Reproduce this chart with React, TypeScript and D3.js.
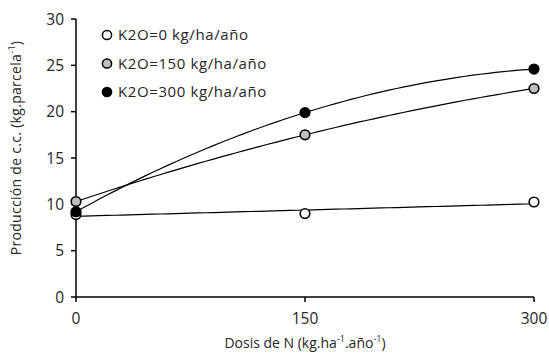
import * as d3 from "d3"

const doses = [0, 150, 300]
const k0 = [8.9, 9.0, 10.25]
const k150 = [10.3, 17.5, 22.5]
const k300 = [9.2, 19.9, 24.6]
const yTicks = [0, 5, 10, 15, 20, 25, 30]
const legendLabels = ["K2O=0 kg/ha/año", "K2O=150 kg/ha/año", "K2O=300 kg/ha/año"]
const fills = ["#ffffff", "#bfbfbf", "#000000"]

// least squares polynomial fit (Excel-style trendline)
function polyFit(xs: number[], ys: number[], deg: number) {
  const n = deg + 1
  const A: number[][] = []
  for (let i = 0; i < n; i++) {
    A.push([])
    for (let j = 0; j < n; j++) A[i].push(d3.sum(xs, x => Math.pow(x, i + j)))
    A[i].push(d3.sum(xs, (x, k) => Math.pow(x, i) * ys[k]))
  }
  for (let i = 0; i < n; i++) {
    for (let r = i + 1; r < n; r++) {
      const f = A[r][i] / A[i][i]
      for (let c = i; c <= n; c++) A[r][c] -= f * A[i][c]
    }
  }
  const coef = new Array(n).fill(0)
  for (let i = n - 1; i >= 0; i--) {
    let s = A[i][n]
    for (let j = i + 1; j < n; j++) s -= A[i][j] * coef[j]
    coef[i] = s / A[i][i]
  }
  return (x: number) => coef.reduce((acc, c, i) => acc + c * Math.pow(x, i), 0)
}

export default function App() {
  const width = 549
  const height = 356
  const m = { left: 76, right: 15, top: 19, bottom: 59 }

  const x = d3.scaleLinear().domain([0, 300]).range([m.left, width - m.right])
  const y = d3.scaleLinear().domain([0, 30]).range([height - m.bottom, m.top])

  const series = [
    { vals: k0, deg: 1 },
    { vals: k150, deg: 2 },
    { vals: k300, deg: 2 },
  ]
  const samples = d3.range(0, 301, 5)
  const line = d3.line<number[]>().x(d => x(d[0])).y(d => y(d[1]))

  const font = "'Open Sans', sans-serif"

  return (
    <svg width={width} height={height} style={{ position: "absolute", left: 0, top: 0 }} fontFamily={font}>
      <rect width={width} height={height} fill="#fff" />
      {/* axes */}
      <line x1={x(0)} x2={x(0)} y1={y(0)} y2={y(30)} stroke="#000" strokeWidth={1.5} />
      <line x1={x(0)} x2={x(300)} y1={y(0)} y2={y(0)} stroke="#000" strokeWidth={1.5} />
      {yTicks.map(t => (
        <g key={t}>
          <line x1={x(0) - 5} x2={x(0)} y1={y(t)} y2={y(t)} stroke="#000" strokeWidth={1.5} />
          <text x={x(0) - 12} y={y(t)} dy="0.36em" textAnchor="end" fontSize={15.5} fill="#262626">{t}</text>
        </g>
      ))}
      {doses.map(t => (
        <g key={t}>
          <line x1={x(t)} x2={x(t)} y1={y(0)} y2={y(0) + 5} stroke="#000" strokeWidth={1.5} />
          <text x={x(t)} y={y(0) + 27} textAnchor="middle" fontSize={15.5} fill="#262626">{t}</text>
        </g>
      ))}
      {/* trendlines */}
      {series.map((s, i) => {
        const f = polyFit(doses, s.vals, s.deg)
        return <path key={i} d={line(samples.map(v => [v, f(v)]))!} fill="none" stroke="#000" strokeWidth={1.2} />
      })}
      {/* points */}
      {series.map((s, i) => s.vals.map((v, j) => (
        <circle key={i + "-" + j} cx={x(doses[j])} cy={y(v)} r={4.8} fill={fills[i]} stroke="#000" strokeWidth={1.6} />
      )))}
      {/* legend */}
      {legendLabels.map((l, i) => (
        <g key={l} transform={`translate(107,${35 + i * 28.5})`}>
          <circle r={4.6} fill={fills[i]} stroke="#000" strokeWidth={1.5} />
          <text x={11} dy="0.36em" fontSize={15} letterSpacing={0.6} fill="#262626">{l}</text>
        </g>
      ))}
      {/* axis titles */}
      <text transform={`translate(21,148) rotate(-90)`} textAnchor="middle" fontSize={14} letterSpacing={0.3} fill="#262626">
        Producción de c.c. (kg.parcela<tspan dy="-6" fontSize={9}>-1</tspan><tspan dy="6">)</tspan>
      </text>
      <text x={(x(0) + x(300)) / 2} y={348} textAnchor="middle" fontSize={14} fill="#262626">
        Dosis de N (kg.ha<tspan dy="-6" fontSize={9}>-1</tspan><tspan dy="6">.año</tspan><tspan dy="-6" fontSize={9}>-1</tspan><tspan dy="6">)</tspan>
      </text>
    </svg>
  )
}
